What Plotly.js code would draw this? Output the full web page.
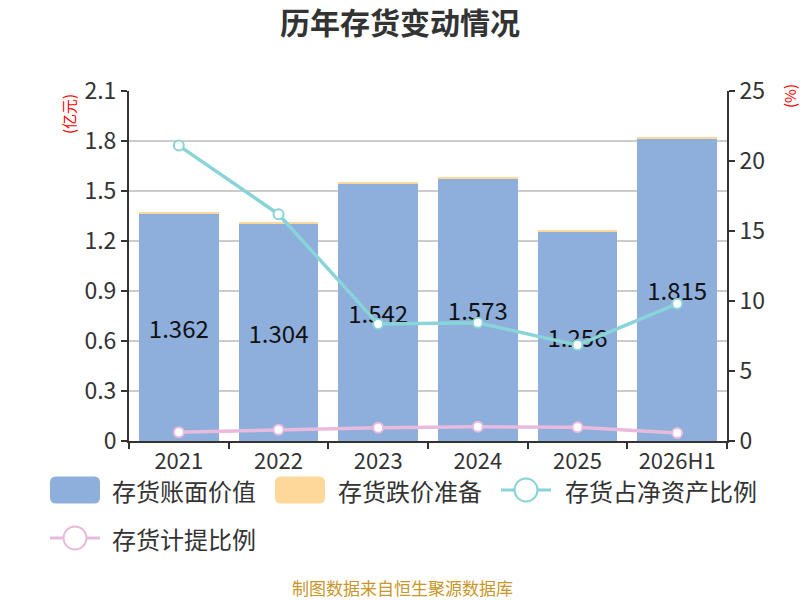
<!DOCTYPE html>
<html>
<head>
<meta charset="utf-8">
<script src="https://cdn.plot.ly/plotly-3.0.1.min.js"></script>
<style>body{margin:0;padding:0;background:#fff;}#chart{width:800px;height:600px;}</style>
</head>
<body>
<div id="chart"></div>
<script>
const categories = ['2021','2022','2023','2024','2025','2026H1'];
const bookValue = [1.362, 1.304, 1.542, 1.573, 1.256, 1.815];
const reserve = [0.010, 0.012, 0.012, 0.012, 0.012, 0.010];
const pctNetAssets = [21.1, 16.2, 8.35, 8.45, 6.85, 9.8];
const provisionPct = [0.62, 0.81, 0.95, 1.02, 0.98, 0.57];
const bookLabels = ['1.362','1.304','1.542','1.573','1.256','1.815'];
const seriesNames = ['存货账面价值','存货跌价准备','存货占净资产比例','存货计提比例'];
const seriesColors = ['#8EAEDB','#FDD89A','#88D4D8','#E8BBDD'];

const font = '"Noto Sans CJK SC", "Noto Sans", sans-serif';

// plot area in pixels
const PL = 129, PR = 727, PT = 91, PB = 441;
const px = x => (x - PL) / (PR - PL);
const py = y => (PB - y) / (PB - PT);

const traces = [
  {
    type: 'bar', name: seriesNames[0], x: categories, y: bookValue,
    marker: {color: seriesColors[0]},
    text: bookLabels, textposition: 'inside', insidetextanchor: 'middle',
    textfont: {size: 24, color: '#111', family: font}, textangle: 0
  },
  {
    type: 'bar', name: seriesNames[1], x: categories, y: reserve,
    marker: {color: seriesColors[1]}, textposition: 'none'
  },
  {
    type: 'scatter', mode: 'lines+markers', name: seriesNames[2],
    x: categories, y: pctNetAssets, yaxis: 'y2',
    line: {color: seriesColors[2], width: 3.5},
    marker: {size: 10, color: '#fff', line: {color: seriesColors[2], width: 2}}
  },
  {
    type: 'scatter', mode: 'lines+markers', name: seriesNames[3],
    x: categories, y: provisionPct, yaxis: 'y2',
    line: {color: seriesColors[3], width: 3.5},
    marker: {size: 10, color: '#fff', line: {color: seriesColors[3], width: 2}}
  }
];

// custom legend (swatches + labels)
function roundRect(x0, y0, x1, y1, r) {
  const X = v => px(v), Y = v => py(v);
  return `M${X(x0 + r)},${Y(y0)} L${X(x1 - r)},${Y(y0)} Q${X(x1)},${Y(y0)} ${X(x1)},${Y(y0 + r)} ` +
         `L${X(x1)},${Y(y1 - r)} Q${X(x1)},${Y(y1)} ${X(x1 - r)},${Y(y1)} ` +
         `L${X(x0 + r)},${Y(y1)} Q${X(x0)},${Y(y1)} ${X(x0)},${Y(y1 - r)} ` +
         `L${X(x0)},${Y(y0 + r)} Q${X(x0)},${Y(y0)} ${X(x0 + r)},${Y(y0)} Z`;
}
const legendItems = [
  {kind: 'box', x: 50, y: 490, tx: 110},
  {kind: 'box', x: 275, y: 490, tx: 336},
  {kind: 'line', x: 501, y: 490, tx: 563},
  {kind: 'line', x: 50, y: 538, tx: 110}
];
const shapes = [];
const annotations = [];
legendItems.forEach((it, i) => {
  const c = seriesColors[i];
  if (it.kind === 'box') {
    shapes.push({type: 'path', xref: 'paper', yref: 'paper', path: roundRect(it.x, it.y - 13.5, it.x + 50, it.y + 13.5, 6),
                 fillcolor: c, line: {width: 0}});
  } else {
    shapes.push({type: 'line', xref: 'paper', yref: 'paper', x0: px(it.x), x1: px(it.x + 50), y0: py(it.y), y1: py(it.y),
                 line: {color: c, width: 3}});
    shapes.push({type: 'circle', xref: 'paper', yref: 'paper', x0: px(it.x + 13.5), x1: px(it.x + 36.5),
                 y0: py(it.y + 11.5), y1: py(it.y - 11.5), fillcolor: '#fff', line: {color: c, width: 2}});
  }
  annotations.push({text: seriesNames[i], xref: 'paper', yref: 'paper', x: px(it.tx), y: py(it.y),
                    xanchor: 'left', yanchor: 'middle', showarrow: false,
                    font: {size: 24, color: '#333', family: font}});
});

annotations.push(
  {text: '(亿元)', xref: 'paper', yref: 'paper', x: px(68), y: py(114), textangle: -90,
   xanchor: 'center', yanchor: 'middle', showarrow: false, font: {size: 15, color: 'red', family: font}},
  {text: '(%)', xref: 'paper', yref: 'paper', x: px(790), y: py(96), textangle: -90,
   xanchor: 'center', yanchor: 'middle', showarrow: false, font: {size: 15, color: 'red', family: font}},
  {text: '制图数据来自恒生聚源数据库', xref: 'paper', yref: 'paper', x: px(402), y: py(587),
   xanchor: 'center', yanchor: 'middle', showarrow: false, font: {size: 17, color: '#C8962A', family: font}}
);

const layout = {
  width: 800, height: 600,
  margin: {l: PL, r: 800 - PR, t: PT, b: 600 - PB},
  paper_bgcolor: '#fff', plot_bgcolor: '#fff',
  font: {family: font, color: '#333'},
  title: {text: '<b>历年存货变动情况</b>', x: 0.5, xanchor: 'center', y: 1 - 23 / 600, yanchor: 'middle',
          font: {size: 30, color: '#333', family: font}},
  barmode: 'stack', bargap: 0.2,
  showlegend: false,
  xaxis: {
    type: 'category', tickson: 'boundaries', ticks: 'outside', ticklen: 6, tickwidth: 2, tickcolor: '#333',
    showline: true, linecolor: '#333', linewidth: 2, showgrid: false,
    tickfont: {size: 22, color: '#333', family: font}
  },
  yaxis: {
    range: [0, 2.1], tickvals: [0,0.3,0.6,0.9,1.2,1.5,1.8,2.1],
    ticktext: ['0','0.3','0.6','0.9','1.2','1.5','1.8','2.1'],
    ticks: 'outside', ticklen: 6, tickwidth: 2, tickcolor: '#333',
    showline: true, linecolor: '#333', linewidth: 2,
    showgrid: true, gridcolor: '#cccccc', gridwidth: 1.5, zeroline: false,
    tickfont: {size: 23, color: '#333', family: font}
  },
  yaxis2: {
    overlaying: 'y', side: 'right', range: [0, 25], tickvals: [0,5,10,15,20,25],
    ticks: 'outside', ticklen: 6, tickwidth: 2, tickcolor: '#333',
    showline: true, linecolor: '#333', linewidth: 2, showgrid: false, zeroline: false,
    tickfont: {size: 23, color: '#333', family: font}
  },
  shapes: shapes,
  annotations: annotations
};

Plotly.newPlot('chart', traces, layout, {displayModeBar: false, staticPlot: true});
</script>
</body>
</html>
